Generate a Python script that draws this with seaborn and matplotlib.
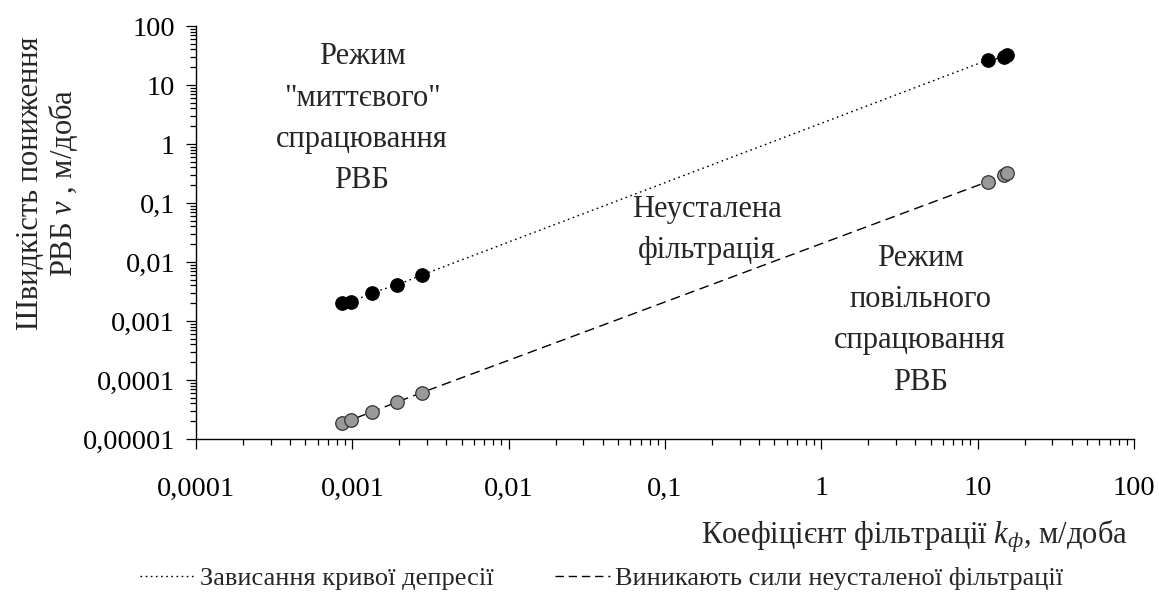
import numpy as np
import pandas as pd
import matplotlib
matplotlib.use("Agg")
import matplotlib.pyplot as plt
import seaborn as sns
from matplotlib.ticker import LogLocator, FixedLocator, FuncFormatter, NullFormatter
from matplotlib.lines import Line2D

# ---- data ----
k_filtr = [0.000855, 0.000977, 0.00133, 0.00194, 0.00278, 11.6, 14.8, 15.5]
v_hang = [0.0020, 0.00207, 0.0030, 0.0041, 0.0060, 26.5, 29.4, 32.7]
v_unsteady = [1.89e-5, 2.1e-5, 2.87e-5, 4.24e-5, 6.1e-5, 0.23, 0.30, 0.327]
legend_labels = ["Зависання кривої депресії", "Виникають сили неусталеної фільтрації"]
x_ticks = [0.0001, 0.001, 0.01, 0.1, 1, 10, 100]
y_ticks = [0.00001, 0.0001, 0.001, 0.01, 0.1, 1, 10, 100]

df = pd.DataFrame({"k": k_filtr, "v1": v_hang, "v2": v_unsteady})

sns.set_style("ticks")
plt.rcParams["font.family"] = ["Liberation Serif", "DejaVu Serif"]
plt.rcParams["mathtext.fontset"] = "custom"
plt.rcParams["mathtext.rm"] = "Liberation Serif"
plt.rcParams["mathtext.it"] = "Liberation Serif:italic"
plt.rcParams["mathtext.bf"] = "Liberation Serif:bold"

FS_TICK = 20.5
FS_TXT = 22
FS_LEG = 19

fig = plt.figure(figsize=(11.59, 6.08), dpi=100)
ax = fig.add_axes([0.1691, 0.2780, 0.8093, 0.6792])

sns.lineplot(data=df, x="k", y="v1", ax=ax, color="black", lw=1.0,
             linestyle=(0, (1.2, 2.5)), estimator=None, sort=True)
sns.lineplot(data=df, x="k", y="v2", ax=ax, color="black", lw=1.0,
             linestyle=(0, (7, 4)), estimator=None, sort=True)
sns.scatterplot(data=df, x="k", y="v1", ax=ax, color="black", s=95,
                edgecolor="black", linewidth=0.8, zorder=3)
sns.scatterplot(data=df, x="k", y="v2", ax=ax, color="#999999", s=95,
                edgecolor="#333333", linewidth=0.9, zorder=3)

ax.set_xscale("log")
ax.set_yscale("log")
ax.set_xlim(x_ticks[0], x_ticks[-1])
ax.set_ylim(y_ticks[0], y_ticks[-1])

def fmt(v, pos=None):
    v = float(f"{v:.6g}")
    s = np.format_float_positional(v, trim='-')
    return s.replace('.', ',')

ax.xaxis.set_major_locator(FixedLocator(x_ticks))
ax.yaxis.set_major_locator(FixedLocator(y_ticks))
ax.xaxis.set_minor_locator(LogLocator(base=10, subs=np.arange(2, 10), numticks=50))
ax.yaxis.set_minor_locator(LogLocator(base=10, subs=np.arange(2, 10), numticks=50))
ax.xaxis.set_major_formatter(FuncFormatter(fmt))
ax.yaxis.set_major_formatter(FuncFormatter(fmt))
ax.xaxis.set_minor_formatter(NullFormatter())
ax.yaxis.set_minor_formatter(NullFormatter())

ax.tick_params(axis="both", which="major", direction="out", length=7,
               width=0.9, color="black", labelsize=FS_TICK, labelcolor="black")
ax.tick_params(axis="both", which="minor", direction="out", length=4.5,
               width=0.9, color="black")
ax.tick_params(axis="x", which="major", pad=20)
ax.tick_params(axis="y", which="major", pad=8)

for side in ["top", "right"]:
    ax.spines[side].set_visible(False)
for side in ["left", "bottom"]:
    ax.spines[side].set_color("black")
    ax.spines[side].set_linewidth(1.0)

ax.set_xlabel("")
ax.set_ylabel("")

# annotations
ax.text(0.177, 0.775, "Режим\n\"миттєвого\"\nспрацювання\nРВБ", transform=ax.transAxes,
        ha="center", va="center", fontsize=FS_TXT, linespacing=1.56, multialignment="center")
ax.text(0.545, 0.506, "Неусталена\nфільтрація", transform=ax.transAxes,
        ha="center", va="center", fontsize=FS_TXT, linespacing=1.56, multialignment="center")
ax.text(0.772, 0.288, "Режим\nповільного\nспрацювання\nРВБ", transform=ax.transAxes,
        ha="center", va="center", fontsize=FS_TXT, linespacing=1.56, multialignment="center")

# axis titles
fig.text(0.0415, 0.699, "Швидкість пониження\nРВБ $v$ , м/доба", rotation=90,
         ha="center", va="center", fontsize=FS_TXT, linespacing=1.08, multialignment="center")
fig.text(0.973, 0.117, "Коефіцієнт фільтрації $k_{ф}$, м/доба",
         ha="right", va="center", fontsize=FS_TXT)

handles = [Line2D([0], [0], color="black", lw=1.0, linestyle=(0, (1.2, 2.5))),
           Line2D([0], [0], color="black", lw=1.0, linestyle=(0, (6, 3.5)))]
fig.legend(handles, legend_labels, loc="center", bbox_to_anchor=(0.519, 0.049),
           ncol=2, frameon=False, fontsize=FS_LEG, handlelength=2.1, handletextpad=0.2,
           columnspacing=2.3)

fig.savefig("out.png", dpi=100)
